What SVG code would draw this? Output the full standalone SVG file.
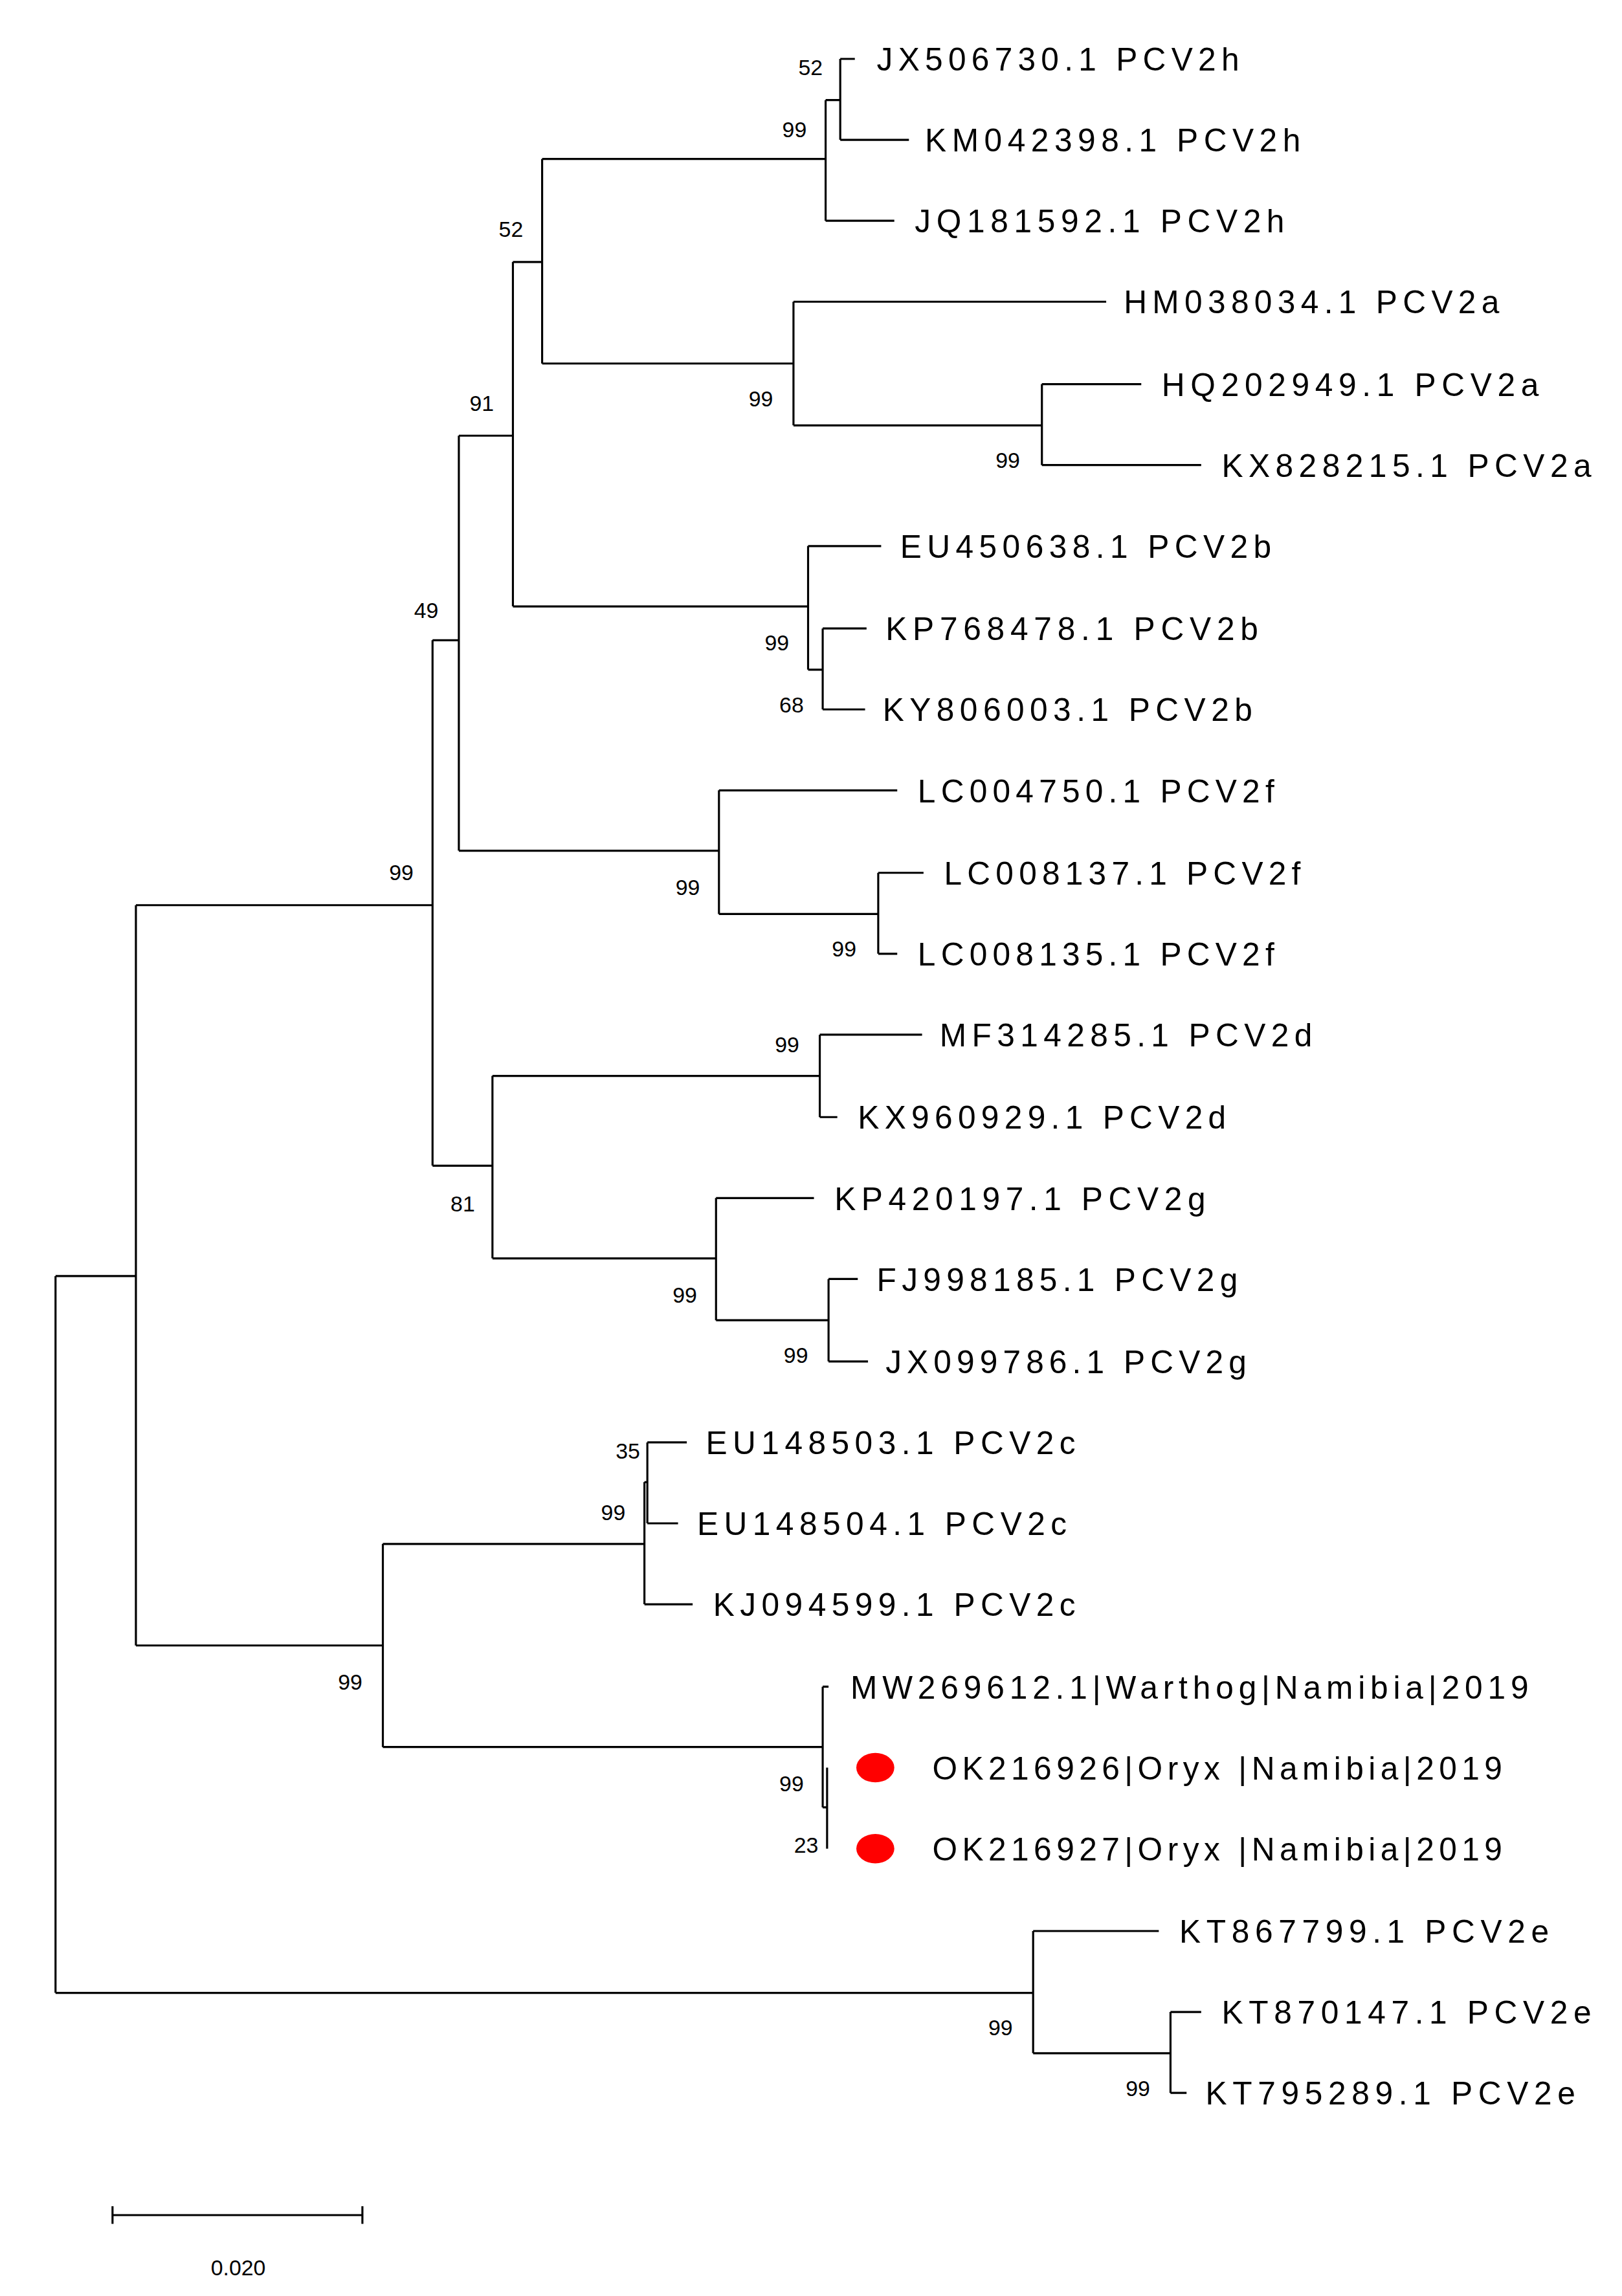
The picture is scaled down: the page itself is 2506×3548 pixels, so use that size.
<svg xmlns="http://www.w3.org/2000/svg" width="2506" height="3548" viewBox="0 0 2506 3548">
<style>
.e{stroke:#000;stroke-width:1.4;fill:none}
.l{font-family:"Liberation Sans",Arial,sans-serif;font-size:22px;fill:#000}
.b{font-family:"Liberation Sans",Arial,sans-serif;font-size:15px;fill:#000;text-anchor:end}
</style>
<rect width="2506" height="3548" fill="#fff"/>
<g transform="scale(2.2577,2.2744)">
<g id="connectors">
<path class="e" d="M38 867V1354M38 867H93M38 1354H707
M93 615V1118M93 615H296M93 1118H262
M296 435V792M296 435H314M296 792H337
M314 296V578M314 296H351M314 578H492
M351 178V412M351 178H371M351 412H553
M371 108V247M371 108H565M371 247H543
M565 68V150M565 68H575M565 150H612
M575 40V95M575 40H585M575 95H622
M543 205V289M543 205H757M543 289H713
M713 261V316M713 261H781M713 316H822
M553 371V455M553 371H603M553 455H563
M563 427V482M563 427H593M563 482H592
M492 537V621M492 537H614M492 621H601
M601 593V648M601 593H632M601 648H614
M337 731V855M337 731H561M337 855H490
M561 703V759M561 703H631M561 759H573
M490 814V897M490 814H557M490 897H567
M567 869V925M567 869H587M567 925H594
M262 1049V1187M262 1049H441M262 1187H563
M441 1007V1090M441 1007H443M441 1090H474
M443 980V1035M443 980H470M443 1035H464
M563 1146V1228M563 1146H567M563 1228H566
M566 1201V1256
M707 1312V1395M707 1312H793M707 1395H801
M801 1367V1422M801 1367H822M801 1422H812
M77 1505H248M77 1499V1511M248 1499V1511"/>
</g>
<g id="leaves">
<text class="l" x="600" y="48" textLength="248">JX506730.1 PCV2h</text>
<text class="l" x="633" y="103" textLength="257">KM042398.1 PCV2h</text>
<text class="l" x="626" y="158" textLength="253">JQ181592.1 PCV2h</text>
<text class="l" x="769" y="213" textLength="257">HM038034.1 PCV2a</text>
<text class="l" x="795" y="269" textLength="258">HQ202949.1 PCV2a</text>
<text class="l" x="836" y="324" textLength="253">KX828215.1 PCV2a</text>
<text class="l" x="616" y="379" textLength="254">EU450638.1 PCV2b</text>
<text class="l" x="606" y="435" textLength="255">KP768478.1 PCV2b</text>
<text class="l" x="604" y="490" textLength="253">KY806003.1 PCV2b</text>
<text class="l" x="628" y="545" textLength="244">LC004750.1 PCV2f</text>
<text class="l" x="646" y="601" textLength="244">LC008137.1 PCV2f</text>
<text class="l" x="628" y="656" textLength="244">LC008135.1 PCV2f</text>
<text class="l" x="643" y="711" textLength="255">MF314285.1 PCV2d</text>
<text class="l" x="587" y="767" textLength="252">KX960929.1 PCV2d</text>
<text class="l" x="571" y="822" textLength="254">KP420197.1 PCV2g</text>
<text class="l" x="600" y="877" textLength="247">FJ998185.1 PCV2g</text>
<text class="l" x="606" y="933" textLength="247">JX099786.1 PCV2g</text>
<text class="l" x="483" y="988" textLength="253">EU148503.1 PCV2c</text>
<text class="l" x="477" y="1043" textLength="253">EU148504.1 PCV2c</text>
<text class="l" x="488" y="1098" textLength="248">KJ094599.1 PCV2c</text>
<text class="l" x="582" y="1154" textLength="464">MW269612.1|Warthog|Namibia|2019</text>
<g id="ok216926"><ellipse cx="599" cy="1201" rx="13" ry="10" fill="#f00"/><text class="l" x="638" y="1209" textLength="390">OK216926|Oryx |Namibia|2019</text></g>
<g id="ok216927"><ellipse cx="599" cy="1256" rx="13" ry="10" fill="#f00"/><text class="l" x="638" y="1264" textLength="390">OK216927|Oryx |Namibia|2019</text></g>
<text class="l" x="807" y="1320" textLength="253">KT867799.1 PCV2e</text>
<text class="l" x="836" y="1375" textLength="253">KT870147.1 PCV2e</text>
<text class="l" x="825" y="1430" textLength="253">KT795289.1 PCV2e</text>
</g>
<g id="bootstrap">
<text class="b" x="563" y="51">52</text>
<text class="b" x="552" y="93">99</text>
<text class="b" x="358" y="161">52</text>
<text class="b" x="529" y="276">99</text>
<text class="b" x="698" y="318">99</text>
<text class="b" x="338" y="279">91</text>
<text class="b" x="300" y="420">49</text>
<text class="b" x="540" y="442">99</text>
<text class="b" x="550" y="484">68</text>
<text class="b" x="283" y="598">99</text>
<text class="b" x="479" y="608">99</text>
<text class="b" x="586" y="650">99</text>
<text class="b" x="547" y="715">99</text>
<text class="b" x="325" y="823">81</text>
<text class="b" x="477" y="885">99</text>
<text class="b" x="553" y="926">99</text>
<text class="b" x="438" y="991">35</text>
<text class="b" x="428" y="1033">99</text>
<text class="b" x="248" y="1148">99</text>
<text class="b" x="550" y="1217">99</text>
<text class="b" x="560" y="1259">23</text>
<text class="b" x="693" y="1383">99</text>
<text class="b" x="787" y="1424">99</text>
</g>
<text class="b" x="163" y="1546" style="text-anchor:middle">0.020</text>
</g>
</svg>
